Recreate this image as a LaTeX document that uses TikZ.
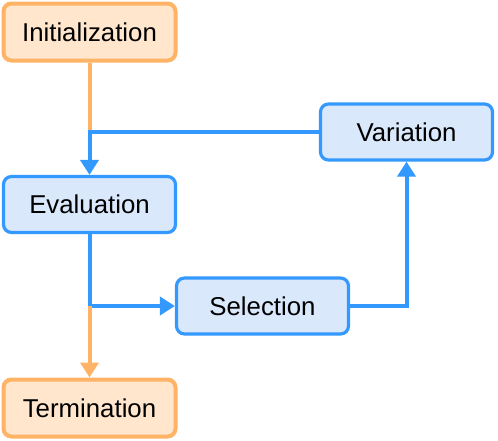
\documentclass[tikz,border=0pt]{standalone}
\usepackage{fontspec}
\setmainfont{Liberation Sans}
\usetikzlibrary{arrows.meta}
\definecolor{ofill}{HTML}{FFE6CC}
\definecolor{oline}{HTML}{FFB366}
\definecolor{bfill}{HTML}{DAE8FC}
\definecolor{bline}{HTML}{3399FF}
\begin{document}
\begin{tikzpicture}[x=1pt,y=-1pt,
  box/.style={rounded corners=8pt,minimum height=56pt,minimum width=172pt,inner sep=0pt,font=\fontsize{25.8}{30}\selectfont},
  obox/.style={box,draw=oline,fill=ofill,line width=4pt,minimum height=57pt},
  bbox/.style={box,draw=bline,fill=bfill,line width=3.2pt},
  bcon/.style={draw=bline,line width=4pt},
  ocon/.style={draw=oline,line width=4pt},
  tip/.style={-{Triangle[length=15pt,width=18pt]}}]
\useasboundingbox (0,0) rectangle (498,440);
\node[obox] (init) at (89.5,32) {Initialization};
\node[bbox] (eval) at (89.5,204.5) {Evaluation};
\node[bbox] (sel) at (262.5,306) {Selection};
\node[bbox] (var) at (406.5,132) {Variation};
\node[obox] (term) at (89.5,408) {Termination};
\coordinate (j1) at (89.5,132);
\coordinate (j2) at (89.5,306);
\draw[ocon] (init.south) -- (j1);
\draw[bcon,tip] (var.west) -- (j1) -- (eval.north);
\draw[bcon,tip] (eval.south) -- (j2) -- (sel.west);
\draw[ocon,tip] (j2) -- (term.north);
\draw[bcon,tip] (sel.east) -| (var.south);
\end{tikzpicture}
\end{document}
